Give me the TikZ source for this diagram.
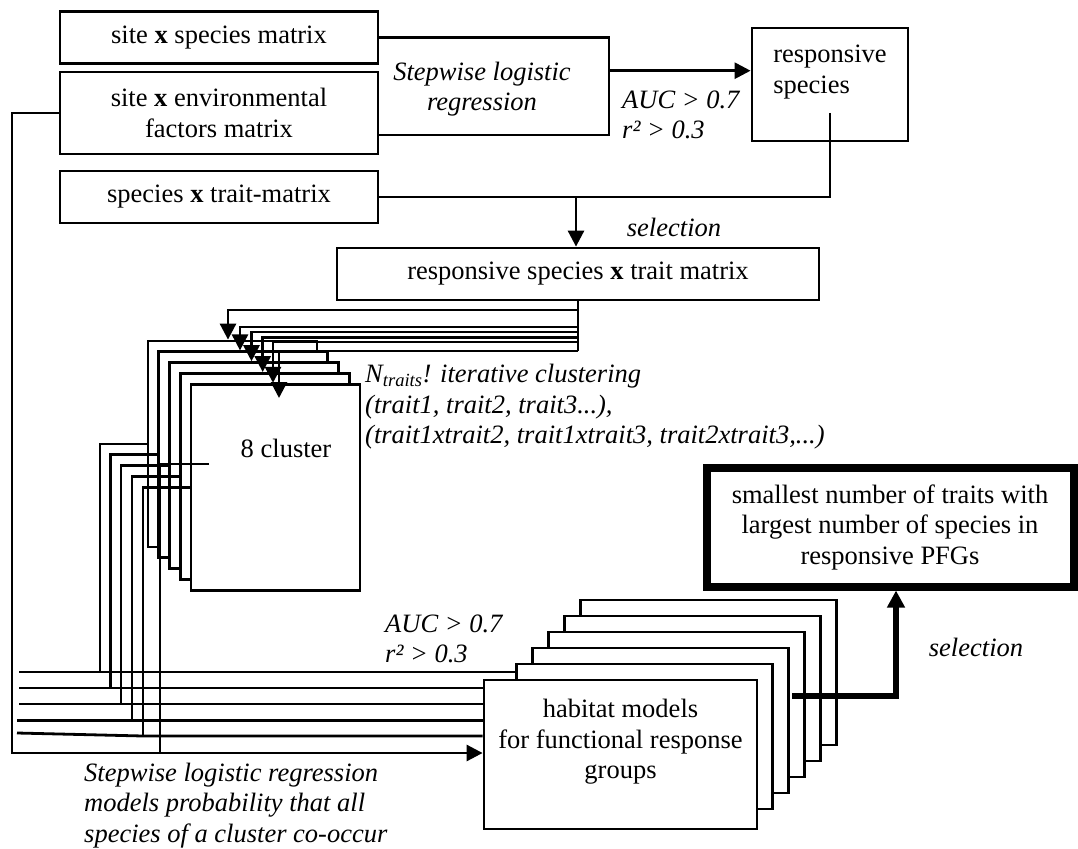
\documentclass[tikz,border=0pt]{standalone}
\usepackage{fontspec}
\setmainfont{Liberation Serif}
\usetikzlibrary{arrows.meta}

\begin{document}
\begin{tikzpicture}[x=1pt,y=-1pt,font=\fontsize{26.5}{30.5}\selectfont]
        %======definition of the blocks==========%
        
            \tikzstyle{block}=[draw,line width=2.8pt,fill=white,inner sep=0pt,align=center]
            \tikzstyle{thickblock}=[draw,line width=8pt,fill=white,inner sep=0pt,align=center]
            \tikzstyle{link}=[line width=2.8pt]
            \tikzstyle{edge}=[-{Triangle[length=16pt,width=16pt]},line width=2.8pt]
            \tikzstyle{bigedge}=[-{Triangle[length=17pt,width=17pt]},line width=5.5pt]
            \tikzstyle{note}=[font=\fontsize{26.5}{30.5}\selectfont\itshape,inner sep=0pt,align=left]
        
        %====================%%=============%
        
            \useasboundingbox (0,0) rectangle (1078,848);
        
            % input matrices
            \node[block,minimum width=318pt,minimum height=52pt](sitesp) at (219,37.5) {site \textbf{x} species matrix};
            \node[block,minimum width=318pt,minimum height=82pt](siteenv) at (219,113) {site \textbf{x} environmental\\factors matrix};
            \node[block,minimum width=318pt,minimum height=52pt](sptrait) at (219,197) {species \textbf{x} trait-matrix};
            \node[block,minimum width=156pt,minimum height=113pt,align=left](resp) at (830,84.5) {responsive\\species\\\mbox{}};
            \node[block,minimum width=482pt,minimum height=52pt](rstrait) at (578,274) {responsive species \textbf{x} trait matrix};
        
            % cluster stack
            \node[block,minimum width=169pt,minimum height=206pt](clA) at (232.5,444) {};
            \node[block,minimum width=169pt,minimum height=206pt](clB) at (243.25,454.8) {};
            \node[block,minimum width=169pt,minimum height=206pt](clC) at (254,465.6) {};
            \node[block,minimum width=169pt,minimum height=206pt](clD) at (264.75,476.4) {};
            \node[block,minimum width=169pt,minimum height=206pt](clE) at (275.5,487.2) {};
            \node(eight) at (286,448) {8 cluster};
        
            % habitat model stack
            \node[block,minimum width=256pt,minimum height=145pt](habA) at (708.5,672.5) {};
            \node[block,minimum width=256pt,minimum height=145pt](habB) at (692.5,688.5) {};
            \node[block,minimum width=256pt,minimum height=145pt](habC) at (676.5,704.5) {};
            \node[block,minimum width=256pt,minimum height=145pt](habD) at (660.5,720.5) {};
            \node[block,minimum width=256pt,minimum height=145pt](habE) at (644.5,736.5) {};
            \node[block,minimum width=273pt,minimum height=149pt](habF) at (620.5,754.5) {habitat models\\for functional response\\groups\\\mbox{}};
        
            \node[thickblock,minimum width=367pt,minimum height=119pt](pfg) at (890,527) {smallest number of traits with\\largest number of species in\\responsive PFGs};
        
            % labels
            \node[note,align=center](steplbl) at (482,89) {Stepwise logistic\\regression};
            \node[note,anchor=west](aucA) at (622,115) {AUC > 0.7\\r² > 0.3};
            \node[note](selA) at (674,227) {selection};
            \node[note,anchor=west](ntraits) at (365,407) {N\textsubscript{traits}! iterative clustering\\(trait1, trait2, trait3...),\\(trait1xtrait2, trait1xtrait3, trait2xtrait3,...)};
            \node[note,anchor=west](aucB) at (385,639) {AUC > 0.7\\r² > 0.3};
            \node[note](selB) at (976,647) {selection};
            \node[note,anchor=west](steplblB) at (84,805.5) {Stepwise logistic regression\\models probability that all\\species of a cluster co-occur};
        
            % points for the connectors
            \coordinate (regtop) at (609,37.5);
            \coordinate (regbot) at (609,135);
            \coordinate (reg) at (609,70.7);
            \coordinate (rsout) at (830,113);
            \coordinate (sel) at (576,197);
            \coordinate (tmdown) at (578,351);
            \coordinate (ar1) at (228,310);
            \coordinate (ar2) at (240,327);
            \coordinate (ar3) at (251.5,332);
            \coordinate (ar4) at (262.7,337.5);
            \coordinate (ar5) at (273,342);
            \coordinate (ar6) at (279,351);
            \coordinate (ar6end) at (279,398);
            \coordinate (vA) at (100,672);
            \coordinate (vB) at (110.5,688);
            \coordinate (vC) at (121,704);
            \coordinate (vD) at (132,720.5);
            \coordinate (vE) at (143,736);
            \coordinate (sA) at (19,672);
            \coordinate (sB) at (19,688);
            \coordinate (sC) at (19,704);
            \coordinate (sD) at (17,720.5);
            \coordinate (sE) at (17,733);
            \coordinate (lft) at (12,753);
            \coordinate (clout) at (209,464);
            \coordinate (cldown) at (160,753);
            \coordinate (habout) at (792,696);
            \coordinate (habup) at (896,696);
        
            % connectors
            \draw[link](sitesp.east) -- (regtop) -- (regbot) -- (regbot -| siteenv.east);
            \draw[edge](reg) -- (reg -| resp.west);
            \draw[link](rsout) |- (sptrait.east);
            \draw[edge](sel) -- (sel |- rstrait.north);
        
            \draw[link](rstrait.south) -- (tmdown);
            \draw[edge](tmdown |- ar1) -- (ar1) -- (ar1 |- clA.north);
            \draw[edge](tmdown |- ar2) -- (ar2) -- (ar2 |- clB.north);
            \draw[edge](tmdown |- ar3) -- (ar3) -- (ar3 |- clC.north);
            \draw[edge](tmdown |- ar4) -- (ar4) -- (ar4 |- clD.north);
            \draw[edge](tmdown |- ar5) -- (ar5) -- (ar5 |- clE.north);
            \draw[edge](tmdown |- ar6) -- (ar6) -- (ar6end);
        
            \draw[link](clA.west) -| (vA);
            \draw[link](clB.west) -| (vB);
            \draw[link](clC.west) -| (vC);
            \draw[link](clD.west) -| (vD);
            \draw[link](clE.west) -| (vE);
            \draw[link](sA) -- (sA -| habE.west);
            \draw[link](sB) -- (sB -| habF.west);
            \draw[link](sC) -- (sC -| habF.west);
            \draw[link](sD) -- (sD -| habF.west);
            \draw[link](sE) -- (vE) -- (vE -| habF.west);
            \draw[link](clout) -| (cldown);
            \draw[edge](siteenv.west) -| (lft) -- (lft -| habF.west);
        
            \draw[bigedge](habout) -- (habup) -- (habup |- pfg.south);
        \end{tikzpicture}
\end{document}
